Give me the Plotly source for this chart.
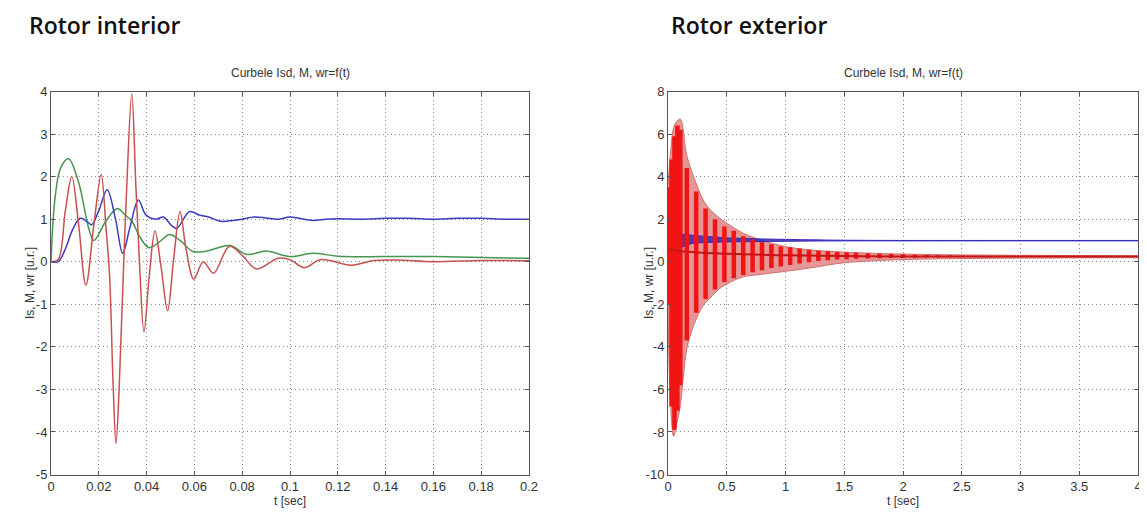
import plotly.graph_objects as go

# ---------------- Left panel: Rotor interior (t in sec) ----------------
t_M = [0, 0.003, 0.006, 0.0087, 0.0115, 0.0146, 0.018, 0.021, 0.023, 0.0245, 0.026, 0.0272,
       0.0285, 0.0298, 0.0315, 0.0338, 0.0355, 0.037, 0.0389, 0.041, 0.0435, 0.046, 0.0488,
       0.0512, 0.054, 0.0565, 0.0598, 0.0637, 0.068, 0.0746, 0.080, 0.086, 0.095, 0.100,
       0.106, 0.113, 0.1257, 0.135, 0.145, 0.16, 0.18, 0.2]
M_val = [0, 0.05, 1.2, 2.0, 0.9, -0.55, 0.9, 2.05, 0.8, -0.3, -2.9, -4.27,
         -3.0, -1.0, 1.5, 3.95, 1.8, 0.0, -1.65, -0.4, 0.72, -0.1, -1.15,
         0.0, 1.18, 0.3, -0.41, 0.0, -0.27, 0.36, 0.15, -0.17, 0.08, 0.05,
         -0.14, 0.05, -0.08, 0.03, 0.04, 0.0, 0.03, 0.02]

t_I = [0, 0.0017, 0.004, 0.0073, 0.0115, 0.0158, 0.018, 0.0228, 0.0277, 0.031, 0.034,
       0.037, 0.041, 0.045, 0.0496, 0.054, 0.0594, 0.065, 0.070, 0.075, 0.082, 0.09,
       0.1, 0.1096, 0.12, 0.14, 0.16, 0.18, 0.2]
I_val = [0.0, 1.5, 2.2, 2.42, 1.88, 0.78, 0.5, 0.94, 1.25, 1.1, 0.94,
         0.6, 0.33, 0.45, 0.64, 0.5, 0.24, 0.25, 0.33, 0.38, 0.17, 0.25,
         0.12, 0.2, 0.13, 0.12, 0.12, 0.1, 0.08]

t_W = [0, 0.003, 0.006, 0.009, 0.0122, 0.015, 0.017, 0.020, 0.0235, 0.027, 0.030, 0.033,
       0.0366, 0.0397, 0.044, 0.047, 0.0505, 0.0526, 0.058, 0.062, 0.066, 0.071, 0.076,
       0.080, 0.085, 0.090, 0.095, 0.100, 0.1096, 0.115, 0.12, 0.13, 0.14, 0.15, 0.16,
       0.17, 0.18, 0.19, 0.2]
W_val = [0, 0.0, 0.3, 0.75, 1.02, 0.95, 0.87, 1.2, 1.69, 1.0, 0.2, 0.8,
         1.45, 1.1, 1.0, 1.05, 0.85, 0.78, 1.18, 1.1, 1.05, 0.95, 0.97,
         1.0, 1.05, 1.03, 1.0, 1.05, 0.97, 1.0, 1.01, 1.0, 1.02, 1.02, 1.0,
         1.02, 1.02, 1.0, 1.0]

# ---------------- Right panel: Rotor exterior (t in sec) ----------------
env_t = [0, 0.02, 0.048, 0.075, 0.105, 0.16, 0.218, 0.3, 0.36, 0.44, 0.5, 0.64, 0.785,
         1.0, 1.2, 1.5, 2.0, 2.5, 3.0, 3.5, 4.0]
env_hi = [3.55, 5.0, 6.3, 6.6, 6.7, 5.0, 4.0, 2.9, 2.44, 2.05, 1.81, 1.34, 1.03,
          0.71, 0.56, 0.45, 0.36, 0.32, 0.3, 0.29, 0.28]
env_lo = [-2.0, -6.5, -8.2, -7.6, -6.76, -4.1, -3.0, -2.05, -1.7, -1.26, -1.05, -0.71, -0.6,
          -0.45, -0.3, -0.05, 0.1, 0.15, 0.17, 0.18, 0.19]

lobe_t = [0.005, 0.03, 0.055, 0.08, 0.105, 0.16, 0.24, 0.32, 0.40, 0.48, 0.56, 0.64, 0.72,
          0.80, 0.88, 0.96, 1.04, 1.12, 1.20, 1.28, 1.36, 1.44, 1.52, 1.60, 1.70, 1.80,
          1.90, 2.00, 2.10, 2.20, 2.30, 2.40, 2.50]
lobe_hi = [3.5, 4.8, 5.9, 6.4, 6.2, 4.4, 3.3, 2.5, 2.0, 1.65, 1.45, 1.2, 1.05,
           0.92, 0.82, 0.72, 0.68, 0.62, 0.56, 0.52, 0.49, 0.46, 0.44, 0.42, 0.4, 0.38,
           0.36, 0.35, 0.33, 0.32, 0.31, 0.3, 0.29]
lobe_lo = [-2.0, -6.8, -7.9, -7.0, -5.8, -3.7, -2.4, -1.75, -1.3, -0.95, -0.78, -0.62, -0.5,
           -0.4, -0.3, -0.22, -0.15, -0.08, -0.02, 0.03, 0.07, 0.1, 0.12, 0.14, 0.15, 0.16,
           0.17, 0.18, 0.19, 0.2, 0.2, 0.21, 0.21]

mid_t = [0, 0.1, 0.3, 0.5, 0.8, 1.0, 1.5, 2.0, 3.0, 4.0]
mid_val = [0.6, 0.5, 0.42, 0.38, 0.33, 0.3, 0.27, 0.25, 0.24, 0.24]

wr_t = [0, 0.02, 0.05, 0.1, 0.15, 0.2, 0.3, 0.4, 0.5, 0.6, 0.8, 1.0, 1.2, 1.5, 2.0, 3.0, 4.0]
wr_hi = [0.3, 1.4, 1.35, 1.3, 1.28, 1.25, 1.2, 1.16, 1.12, 1.1, 1.07, 1.05, 1.03, 1.01, 1.0, 1.0, 1.0]
wr_lo = [0.0, 0.15, 0.5, 0.65, 0.75, 0.85, 0.9, 0.92, 0.93, 0.94, 0.95, 0.96, 0.97, 0.98, 0.98, 0.98, 0.98]

left_xticks = [0, 0.02, 0.04, 0.06, 0.08, 0.1, 0.12, 0.14, 0.16, 0.18, 0.2]
left_xlabels = ["0", "0.02", "0.04", "0.06", "0.08", "0.1", "0.12", "0.14", "0.16", "0.18", "0.2"]
left_yticks = [-5, -4, -3, -2, -1, 0, 1, 2, 3, 4]
right_xticks = [0, 0.5, 1, 1.5, 2, 2.5, 3, 3.5, 4]
right_xlabels = ["0", "0.5", "1", "1.5", "2", "2.5", "3", "3.5", "4"]
right_yticks = [-10, -8, -6, -4, -2, 0, 2, 4, 6, 8]

# page has an 8px body margin: convert page pixels to paper fractions
W, H, OFF = 1139, 507, 8
def px(X):
    return (X - OFF) / W
def py(Y):
    return 1 - (Y - OFF) / H

FONT = "Liberation Sans, Arial, sans-serif"
fig = go.Figure()

# Left
fig.add_trace(go.Scatter(x=t_I, y=I_val, mode="lines", line=dict(color="rgb(70,150,80)", width=1.5, shape="spline"),
                         xaxis="x", yaxis="y", showlegend=False))
fig.add_trace(go.Scatter(x=t_W, y=W_val, mode="lines", line=dict(color="rgb(60,60,190)", width=1.5, shape="spline"),
                         xaxis="x", yaxis="y", showlegend=False))
fig.add_trace(go.Scatter(x=t_M, y=M_val, mode="lines", line=dict(color="rgb(200,80,80)", width=1.5, shape="spline"),
                         xaxis="x", yaxis="y", showlegend=False))

# Right: pink envelope band
fig.add_trace(go.Scatter(x=env_t, y=env_hi, mode="lines", line=dict(color="rgb(210,110,110)", width=1, shape="spline"),
                         xaxis="x2", yaxis="y2", showlegend=False))
fig.add_trace(go.Scatter(x=env_t, y=env_lo, mode="lines", line=dict(color="rgb(210,110,110)", width=1, shape="spline"),
                         fill="tonexty", fillcolor="rgb(230,150,150)", xaxis="x2", yaxis="y2", showlegend=False))
# blue band
fig.add_trace(go.Scatter(x=wr_t, y=wr_hi, mode="lines", line=dict(color="rgb(50,40,190)", width=1, shape="spline"),
                         xaxis="x2", yaxis="y2", showlegend=False))
fig.add_trace(go.Scatter(x=wr_t, y=wr_lo, mode="lines", line=dict(color="rgb(50,40,190)", width=1, shape="spline"),
                         fill="tonexty", fillcolor="rgba(60,40,170,0.85)", xaxis="x2", yaxis="y2", showlegend=False))
# red lobes: vertical strokes from lobe_lo to lobe_hi
seg_x, seg_y = [], []
for t, lo, hi in zip(lobe_t, lobe_lo, lobe_hi):
    seg_x += [t, t, None]
    seg_y += [lo, hi, None]
fig.add_trace(go.Scatter(x=seg_x, y=seg_y, mode="lines", line=dict(color="rgb(240,20,20)", width=4.5),
                         connectgaps=False, xaxis="x2", yaxis="y2", showlegend=False))
fig.add_trace(go.Scatter(x=mid_t, y=mid_val, mode="lines", line=dict(color="rgb(200,20,20)", width=2, shape="spline"),
                         xaxis="x2", yaxis="y2", showlegend=False))

axis_common = dict(showline=True, linecolor="#555", linewidth=1, mirror="ticks", ticks="inside", ticklen=4,
                   tickcolor="#555", showgrid=True, gridcolor="#888", griddash="1px,3px", gridwidth=1,
                   zeroline=False, automargin=False, tickfont=dict(family=FONT, size=13, color="#333"))

yd = [py(474.5), py(91.5)]
fig.update_layout(
    width=W, height=H, margin=dict(l=0, r=0, t=0, b=0, autoexpand=False),
    paper_bgcolor="white", plot_bgcolor="white",
    font=dict(family=FONT, color="#333"),
    xaxis=dict(domain=[px(51), px(529)], range=[0, 0.2], tickvals=left_xticks, ticktext=left_xlabels,
               anchor="y", **axis_common),
    yaxis=dict(domain=yd, range=[-5, 4], tickvals=left_yticks, ticktext=[str(v) for v in left_yticks],
               anchor="x", **axis_common),
    xaxis2=dict(domain=[px(668), px(1138)], range=[0, 4], tickvals=right_xticks, ticktext=right_xlabels,
                anchor="y2", **axis_common),
    yaxis2=dict(domain=yd, range=[-10, 8], tickvals=right_yticks, ticktext=[str(v) for v in right_yticks],
                anchor="x2", **axis_common),
)

BIG = "Open Sans, DejaVu Sans, sans-serif"
ann = []
ann.append(dict(text="Rotor interior", x=px(27), y=py(25), xref="paper", yref="paper",
                xanchor="left", yanchor="middle", showarrow=False,
                font=dict(family=BIG, size=23, color="#111", weight=600)))
ann.append(dict(text="Rotor exterior", x=px(669), y=py(25), xref="paper", yref="paper",
                xanchor="left", yanchor="middle", showarrow=False,
                font=dict(family=BIG, size=23, color="#111", weight=600)))
for xc in [290, 903]:
    ann.append(dict(text="Curbele Isd, M, wr=f(t)", x=px(xc), y=py(73), xref="paper", yref="paper",
                    xanchor="center", yanchor="middle", showarrow=False, font=dict(family=FONT, size=12, color="#333")))
    ann.append(dict(text="t [sec]", x=px(xc), y=py(501), xref="paper", yref="paper",
                    xanchor="center", yanchor="middle", showarrow=False, font=dict(family=FONT, size=12, color="#333")))
for xc in [30, 649]:
    ann.append(dict(text="Is, M, wr [u.r.]", x=px(xc), y=py(283), xref="paper", yref="paper",
                    xanchor="center", yanchor="middle", textangle=-90, showarrow=False,
                    font=dict(family=FONT, size=12, color="#333")))
fig.update_layout(annotations=ann)

fig.write_html("out.html")
